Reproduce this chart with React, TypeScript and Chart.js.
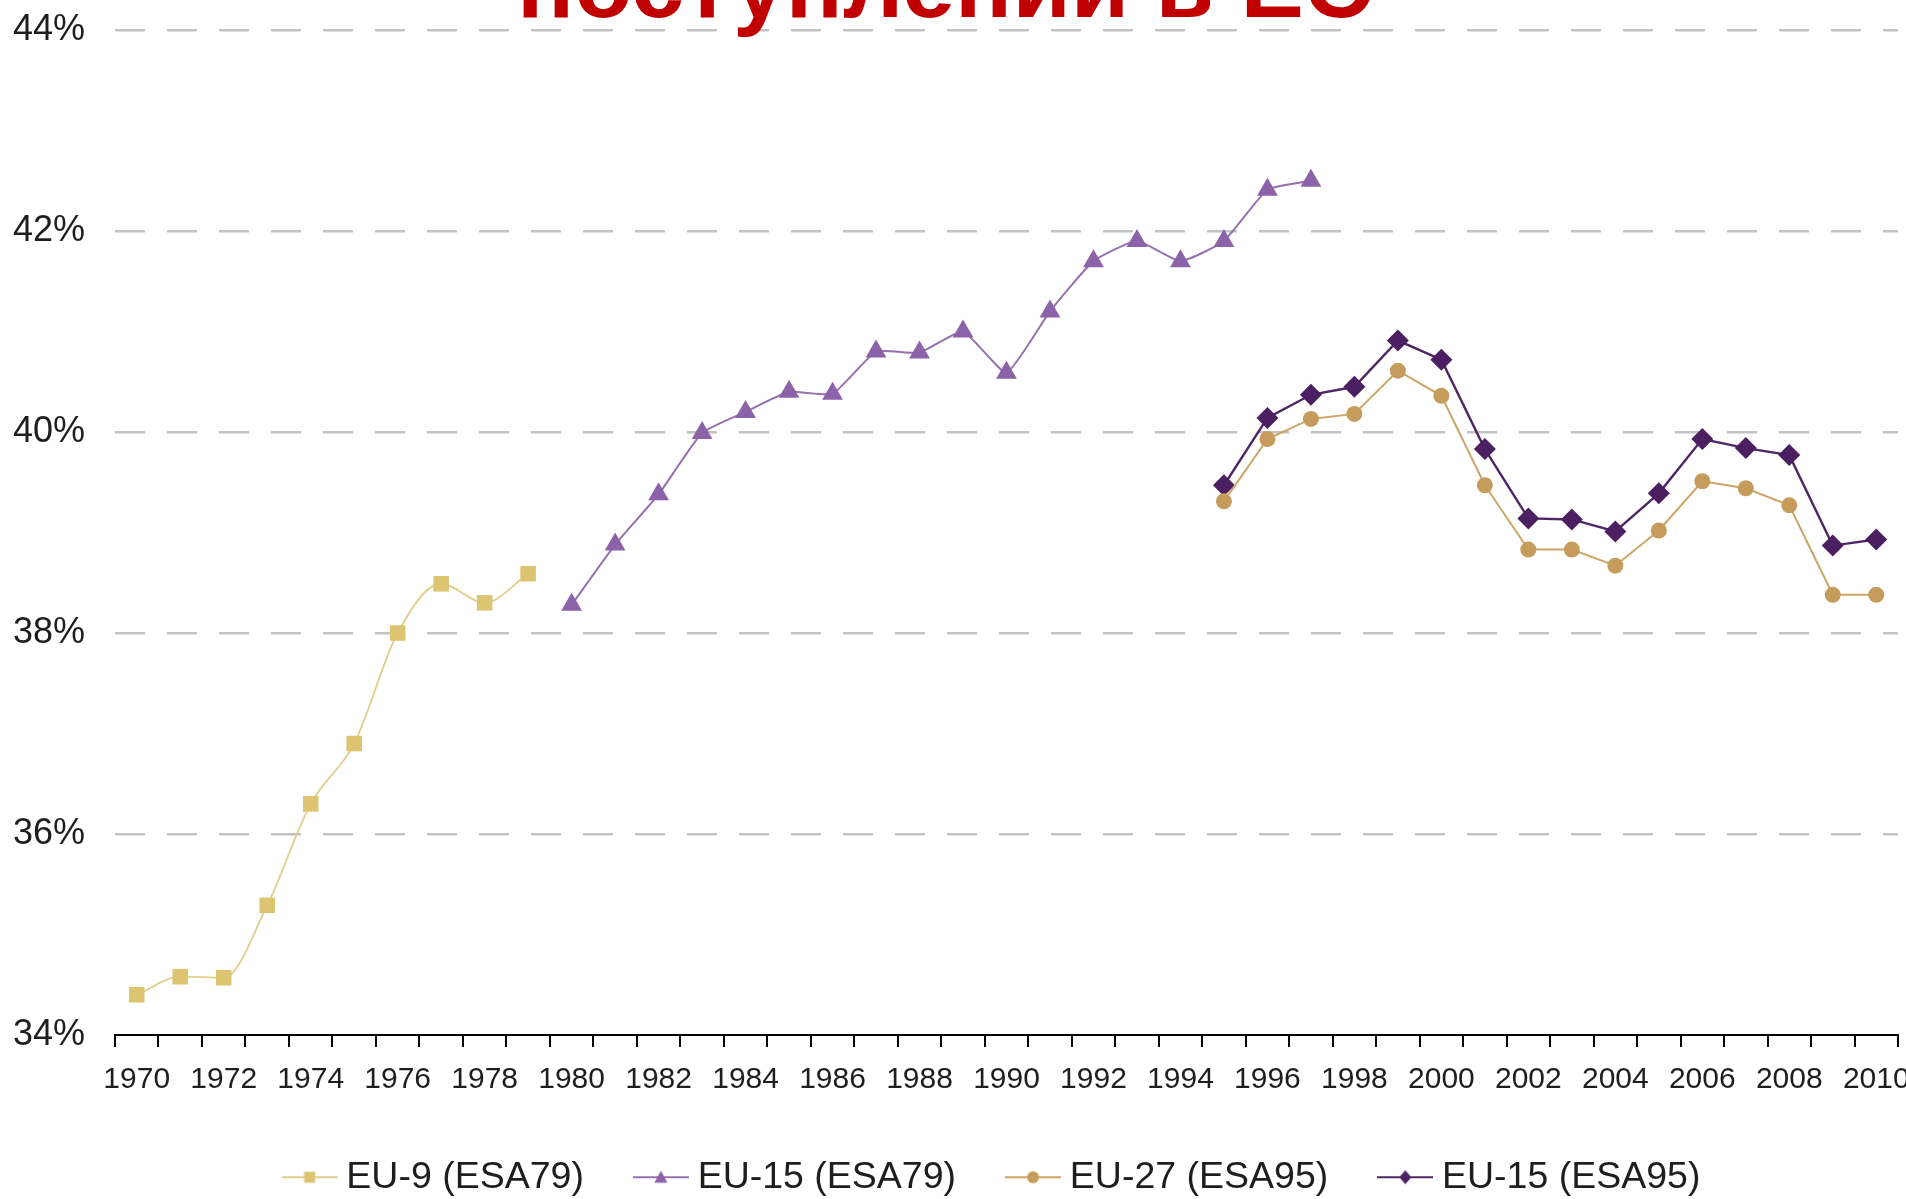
import React, { useEffect, useRef } from 'react';
import { Chart, registerables } from 'chart.js';

Chart.register(...registerables);

const years = [
  '1970', '1971', '1972', '1973', '1974', '1975', '1976', '1977', '1978', '1979',
  '1980', '1981', '1982', '1983', '1984', '1985', '1986', '1987', '1988', '1989',
  '1990', '1991', '1992', '1993', '1994', '1995', '1996', '1997', '1998', '1999',
  '2000', '2001', '2002', '2003', '2004', '2005', '2006', '2007', '2008', '2009', '2010',
];

// EU-9 (ESA79), 1970-1979
const eu9Esa79Start = '1970';
const eu9Esa79 = [34.4, 34.58, 34.57, 35.29, 36.3, 36.9, 38.0, 38.49, 38.3, 38.59];

// EU-15 (ESA79), 1980-1997
const eu15Esa79Start = '1980';
const eu15Esa79 = [38.28, 38.88, 39.38, 39.99, 40.2, 40.4, 40.38, 40.8, 40.79, 41.0, 40.59, 41.2, 41.7, 41.9, 41.7, 41.9, 42.41, 42.5];

// EU-27 (ESA95), 1995-2010
const eu27Esa95Start = '1995';
const eu27Esa95 = [39.31, 39.93, 40.13, 40.18, 40.61, 40.36, 39.47, 38.83, 38.83, 38.67, 39.02, 39.51, 39.44, 39.27, 38.38, 38.38];

// EU-15 (ESA95), 1995-2010
const eu15Esa95Start = '1995';
const eu15Esa95 = [39.47, 40.14, 40.37, 40.45, 40.91, 40.72, 39.83, 39.14, 39.13, 39.01, 39.39, 39.93, 39.84, 39.77, 38.87, 38.93];

const seriesNames = ['EU-9 (ESA79)', 'EU-15 (ESA79)', 'EU-27 (ESA95)', 'EU-15 (ESA95)'];
const yTicks = [34, 36, 38, 40, 42, 44];
const titleText = 'поступлений в ЕС';

const FONT = '"Liberation Sans", Arial, sans-serif';

function place(start: string, values: number[]): (number | null)[] {
  const offset = years.indexOf(start);
  return years.map((_, i) => {
    const k = i - offset;
    return k >= 0 && k < values.length ? values[k] : null;
  });
}

type Shape = 'rect' | 'triangle' | 'circle' | 'rectRot';

function makeIcon(lineColor: string, markerColor: string, shape: Shape): HTMLCanvasElement {
  const c = document.createElement('canvas');
  c.width = 56;
  c.height = 24;
  const ctx = c.getContext('2d')!;
  const cy = 12;
  const cx = 28;
  ctx.strokeStyle = lineColor;
  ctx.lineWidth = 2;
  ctx.beginPath();
  ctx.moveTo(0, cy);
  ctx.lineTo(56, cy);
  ctx.stroke();
  ctx.fillStyle = markerColor;
  ctx.beginPath();
  if (shape === 'rect') {
    ctx.rect(cx - 5.5, cy - 5.5, 11, 11);
  } else if (shape === 'triangle') {
    ctx.moveTo(cx, cy - 6.5);
    ctx.lineTo(cx + 6.5, cy + 5.5);
    ctx.lineTo(cx - 6.5, cy + 5.5);
    ctx.closePath();
  } else if (shape === 'circle') {
    ctx.arc(cx, cy, 6, 0, Math.PI * 2);
  } else {
    ctx.moveTo(cx, cy - 7);
    ctx.lineTo(cx + 6, cy);
    ctx.lineTo(cx, cy + 7);
    ctx.lineTo(cx - 6, cy);
    ctx.closePath();
  }
  ctx.fill();
  return c;
}

export default function App() {
  const canvasRef = useRef<HTMLCanvasElement>(null);

  useEffect(() => {
    const canvas = canvasRef.current;
    if (!canvas) return;

    const styles = [
      { line: '#E2CD8A', marker: '#DCC470', shape: 'rect' as Shape, radius: 11, width: 1.8, tension: 0.4, mode: 'monotone' },
      { line: '#9670B0', marker: '#8C62A8', shape: 'triangle' as Shape, radius: 12, width: 2, tension: 0.15, mode: 'default' },
      { line: '#CDA566', marker: '#C69C5C', shape: 'circle' as Shape, radius: 8, width: 2, tension: 0, mode: 'default' },
      { line: '#4E2664', marker: '#4B1F60', shape: 'rectRot' as Shape, radius: 11, width: 2.4, tension: 0, mode: 'default' },
    ];
    const dataSets = [
      place(eu9Esa79Start, eu9Esa79),
      place(eu15Esa79Start, eu15Esa79),
      place(eu27Esa95Start, eu27Esa95),
      place(eu15Esa95Start, eu15Esa95),
    ];
    const icons = styles.map((s) => makeIcon(s.line, s.marker, s.shape));

    const zeroPad = (s: any) => {
      s.paddingLeft = 0;
      s.paddingRight = 0;
      s.paddingTop = 0;
      s.paddingBottom = 0;
    };

    const chart = new Chart(canvas, {
      type: 'line',
      data: {
        labels: years,
        datasets: seriesNames.map((name, i) => ({
          label: name,
          data: dataSets[i],
          borderColor: styles[i].line,
          backgroundColor: styles[i].marker,
          borderWidth: styles[i].width,
          pointStyle: styles[i].shape,
          pointRadius: styles[i].radius,
          pointBackgroundColor: styles[i].marker,
          pointBorderColor: styles[i].marker,
          pointBorderWidth: 0,
          tension: styles[i].tension,
          cubicInterpolationMode: styles[i].mode,
          spanGaps: false,
          fill: false,
          yAxisID: 'y',
        })),
      },
      options: {
        responsive: false,
        animation: false,
        devicePixelRatio: 1,
        layout: { padding: { left: 0, right: 0, top: 30, bottom: 0 } },
        plugins: {
          tooltip: { enabled: false },
          title: { display: false },
          legend: {
            display: true,
            position: 'bottom',
            fullSize: true,
            labels: {
              usePointStyle: true,
              pointStyleWidth: 36,
              padding: 59,
              color: '#1E1E1E',
              font: { family: FONT, size: 37.5 },
              generateLabels: () =>
                seriesNames.map((name, i) => ({
                  text: name,
                  pointStyle: icons[i],
                  fillStyle: styles[i].marker,
                  strokeStyle: styles[i].line,
                  lineWidth: 0,
                  hidden: false,
                  datasetIndex: i,
                  fontColor: '#1E1E1E',
                })),
            },
          },
        },
        scales: {
          x: {
            type: 'category',
            offset: true,
            grid: {
              offset: true,
              drawOnChartArea: false,
              drawTicks: true,
              tickLength: 12,
              color: '#000000',
              lineWidth: 2,
            },
            border: { display: true, color: '#000000', width: 2 },
            ticks: {
              autoSkip: false,
              maxRotation: 0,
              minRotation: 0,
              padding: 15,
              color: '#1E1E1E',
              font: { family: FONT, size: 30 },
              callback: (_v: any, i: number) => (Number(years[i]) % 2 === 0 ? years[i] : ''),
            },
            afterFit: (s: any) => {
              s.height = 64.5;
              zeroPad(s);
            },
          },
          y: {
            position: 'left',
            min: yTicks[0],
            max: yTicks[yTicks.length - 1],
            afterBuildTicks: (s: any) => {
              s.ticks = yTicks.map((v) => ({ value: v }));
            },
            ticks: {
              padding: 30,
              color: '#1E1E1E',
              font: { family: FONT, size: 36 },
              callback: (v: any) => `${v}%`,
            },
            grid: {
              drawTicks: false,
              lineWidth: 2.5,
              color: (ctx: any) => (ctx.tick && ctx.tick.value === yTicks[0] ? 'rgba(0,0,0,0)' : '#C2C2C2'),
            },
            border: { display: false, dash: [30, 22] },
            afterFit: (s: any) => {
              s.width = 115;
              zeroPad(s);
            },
          },
          spacer: {
            type: 'linear',
            position: 'right',
            display: true,
            min: 0,
            max: 1,
            grid: { display: false, drawTicks: false },
            border: { display: false },
            ticks: { display: false },
            afterFit: (s: any) => {
              s.width = 94;
              zeroPad(s);
            },
          },
        },
      },
    } as any);

    return () => chart.destroy();
  }, []);

  return (
    <div
      style={{
        position: 'absolute',
        left: 0,
        top: 0,
        width: 1906,
        height: 1199,
        overflow: 'hidden',
        background: '#ffffff',
      }}
    >
      <canvas
        ref={canvasRef}
        width={1992}
        height={1206}
        style={{ position: 'absolute', left: 0, top: 0, width: 1992, height: 1206 }}
      />
      <div
        style={{
          position: 'absolute',
          left: 517,
          top: -63,
          margin: 0,
          fontFamily: FONT,
          fontWeight: 'bold',
          fontSize: 95,
          lineHeight: '95px',
          color: '#C00000',
          whiteSpace: 'nowrap',
        }}
      >
        {titleText}
      </div>
    </div>
  );
}
